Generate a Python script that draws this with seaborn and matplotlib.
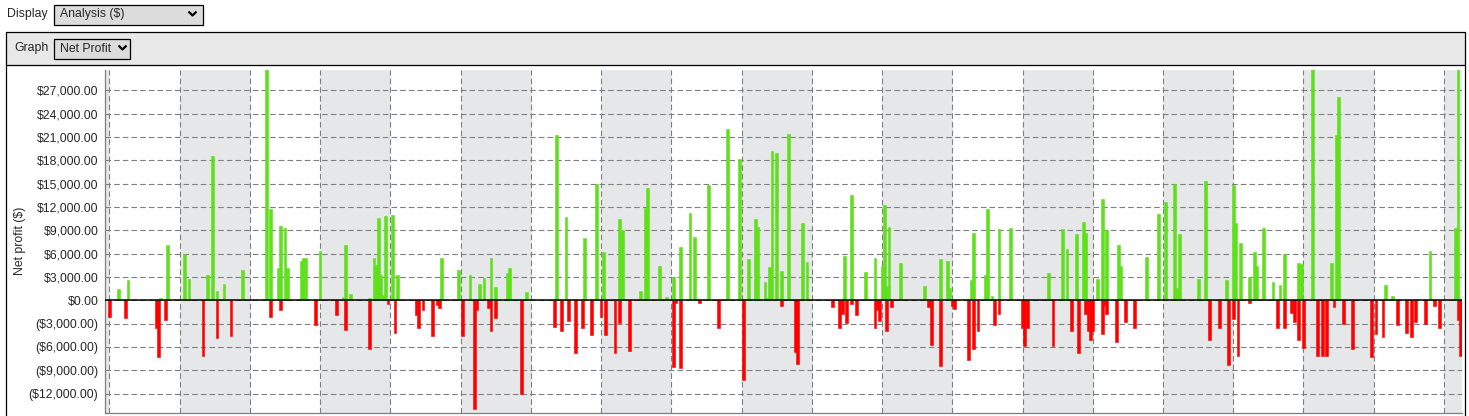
import numpy as np
import pandas as pd
import matplotlib
matplotlib.use("Agg")
import matplotlib.pyplot as plt
import seaborn as sns
from matplotlib.patches import Rectangle

# trade exit day (30-day periods between the dashed lines) and net profit per trade ($)
trade_day = [
    0, 4, 7, 8, 20, 21, 22, 24, 25, 32, 34, 40, 42, 44, 46, 46, 49, 52, 57, 67,
    69, 69, 72, 73, 73, 75, 76, 82, 83, 84, 88, 90, 97, 100, 101, 101, 103, 111, 111, 113,
    114, 115, 116, 117, 118, 119, 121, 122, 123, 131, 132, 134, 138, 140, 141, 142, 149, 151, 154, 156,
    157, 158, 160, 162, 163, 163, 165, 165, 170, 171, 176, 178, 190, 191, 193, 195, 196, 199, 202, 203,
    206, 208, 210, 211, 212, 216, 218, 218, 219, 222, 227, 229, 230, 235, 238, 241, 241, 242, 244, 244,
    248, 250, 252, 256, 260, 264, 269, 271, 273, 276, 277, 280, 281, 282, 283, 285, 287, 287, 290, 293,
    294, 296, 298, 309, 312, 313, 314, 315, 317, 317, 319, 323, 327, 327, 328, 329, 330, 331, 332, 332,
    333, 334, 338, 348, 350, 350, 351, 355, 355, 358, 359, 360, 361, 367, 368, 369, 369, 371, 374, 375,
    377, 378, 380, 380, 385, 390, 391, 392, 401, 403, 407, 409, 411, 413, 414, 416, 417, 417, 418, 419,
    420, 422, 424, 424, 425, 426, 426, 430, 431, 432, 434, 438, 443, 448, 451, 455, 456, 457, 465, 468,
    470, 474, 477, 478, 480, 480, 481, 482, 483, 487, 487, 489, 490, 493, 497, 499, 500, 502, 502, 505,
    506, 508, 508, 509, 510, 514, 516, 518, 520, 522, 523, 524, 525, 527, 531, 539, 541, 544, 545, 548,
    550, 554, 556, 558, 562, 564, 566, 568, 575, 576, 576, 577,
]
net_profit = [
    -2100, 1400, -2300, 2600, -3600, -7300, 340, -2500, 7100, 5900, 2700, -7200, 3300, 18600, 1150, -4800, 2100, -4600, 3900, 31000,
    11800, -2100, 4100, 9600, -1200, 9300, 4100, 5000, 5400, 5400, -3200, 6300, -1900, 430, 7100, -3800, 770, -6300, 260, 5400,
    4600, 10600, 3200, 730, 10800, -430, 11000, -4200, 3300, -1900, -3500, -1300, -4600, -640, -940, 5400, 3900, -4600, 3300, -14000,
    -1200, 2100, 2900, -1000, -3900, 5400, 1700, -2300, 3500, 4100, -12100, 1100, -3400, 21200, -4000, 10700, -2600, -6800, -3600, 8000,
    -4500, 15000, -2100, 6200, -4500, -6800, -2900, 10400, 9100, -6500, 1200, 11900, 14500, 4400, 430, 3000, -8600, -400, -8700, 6800,
    11200, 8100, -400, 14800, -3600, 22000, 18200, -10200, 5300, 10500, 9400, 2400, 300, 4300, 19200, 18900, -700, 3800, 21400, -6600,
    -8200, 10000, 4900, -900, -3500, -1800, 5700, -2900, 13500, -430, -1900, 3600, 5500, -3500, -1300, -2700, 4400, 12200, 1800, -3900,
    9400, -800, 4800, 1800, 100, -800, -5800, 5300, -8400, 5100, 1600, -700, -1100, -7700, 2600, 8600, -6300, -4000, 3300, 11700,
    500, -3200, 9200, -1700, 9300, -3600, -5900, -3600, 3500, -5900, 9200, 6600, -4000, 8500, -6800, 10100, -1700, 8600, -4000, -5100,
    -3900, 2800, 13000, -4300, -600, 9000, -1700, -5400, 7100, 4400, -2800, -3600, 5600, 11100, 12600, 15000, 1600, 8500, 2700, 15300,
    -5100, -3600, 2600, -8300, 14800, -2400, 9900, -7100, 7400, 3000, -400, 6200, 4400, 9300, 2400, -3600, 2000, -3600, 5900, -1600,
    -2800, 4800, -5100, 4700, -6100, 31000, -7200, -7200, -7200, 4800, -900, 21300, 26100, -3000, -6200, -7300, -4300, -4700, 2000, 600,
    -3200, -4200, -4700, -2800, -3000, 6300, -700, -3500, 9300, 31000, -2500, -7200,
]

period_days = 30
n_periods = 19
y_ticks = list(range(-12000, 27001, 3000))

GREEN = "#5ee01a"
RED = "#ff0000"
GRID = "#7f7f7f"
SHADE = "#e6e7e8"

df = pd.DataFrame({"day": trade_day, "profit": net_profit})
df["result"] = np.where(df["profit"] >= 0, "win", "loss")

W, H = 1469, 416
sns.set_style("white")
plt.rcParams["font.family"] = ["Liberation Sans", "DejaVu Sans"]
plt.rcParams["font.size"] = 8.8

fig = plt.figure(figsize=(W / 100, H / 100), dpi=100)

# page / panel chrome drawn in pixel coordinates
bg = fig.add_axes([0, 0, 1, 1])
bg.set_xlim(0, W)
bg.set_ylim(H, 0)
bg.axis("off")

bg.text(7, 14.5, "Display", ha="left", va="center")
bg.add_patch(Rectangle((54.5, 4.5), 149, 20, fc="#dcdcdc", ec="black", lw=0.9))
bg.text(60, 14.5, "Analysis ($)", ha="left", va="center")
bg.plot([188.5, 192.5, 196.5], [11.5, 15.5, 11.5], color="black", lw=1.6, solid_capstyle="butt")

bg.add_patch(Rectangle((6.5, 31.5), 1459, 33, fc="#e8e8e8", ec="none"))
for xs, ys in [([6.5, 1465.5], [31.5, 31.5]), ([6.5, 1465.5], [64.5, 64.5]),
               ([6.5, 6.5], [31.5, H]), ([1465.5, 1465.5], [31.5, H])]:
    bg.plot(xs, ys, color="black", lw=0.9)
bg.text(14, 48.5, "Graph", ha="left", va="center")
bg.add_patch(Rectangle((54.5, 38.5), 76, 20, fc="#dcdcdc", ec="black", lw=0.9))
bg.text(60, 48.5, "Net Profit", ha="left", va="center")
bg.plot([118.5, 122.5, 126.5], [45.5, 49.5, 45.5], color="black", lw=1.6, solid_capstyle="butt")
bg.text(20, 241, "Net profit ($)", rotation=90, ha="center", va="center")

# chart area
left, right, top, bottom = 105, 1462, 70, 413
ax = fig.add_axes([left / W, (H - bottom) / H, (right - left) / W, (bottom - top) / H])
ax.set_facecolor("white")

x_lo, x_hi = -1.85, 577.7
for k in range(-1, n_periods + 1, 2):
    ax.axvspan(max(k * period_days, x_lo - 5), min((k + 1) * period_days, 577.3),
               color=SHADE, lw=0, zorder=0)

sns.barplot(data=df, x="day", y="profit", hue="result",
            palette={"win": GREEN, "loss": RED}, saturation=1, native_scale=True,
            dodge=False, width=1.2, errorbar=None, legend=False, ax=ax, zorder=2)
for p in ax.patches:
    if not isinstance(p, Rectangle):
        continue
    p.set_edgecolor(p.get_facecolor())
    p.set_linewidth(0.4)

ax.set_xlim(x_lo, x_hi)
ax.set_ylim(-14490, 29610)
ax.set_yticks(y_ticks)
ax.set_yticklabels([f"${v:,.2f}" if v >= 0 else f"(${-v:,.2f})" for v in y_ticks])
ax.set_xticks([k * period_days for k in range(n_periods + 1)])
ax.set_xticklabels([])
ax.set_xlabel("")
ax.set_ylabel("")

ax.set_axisbelow(True)
ax.grid(True, axis="both", color=GRID, lw=0.8, linestyle=(0, (5, 2.8)))
ax.axhline(0, color="black", lw=1.1, zorder=3)

for s in ["top", "right"]:
    ax.spines[s].set_visible(False)
for s in ["left", "bottom"]:
    ax.spines[s].set_color(GRID)
    ax.spines[s].set_linewidth(0.9)
ax.tick_params(axis="y", direction="inout", length=5, width=0.8, color=GRID, pad=2.2, labelsize=8.8)
ax.tick_params(axis="x", direction="out", length=3, width=0.8, color=GRID)

fig.savefig("out.png", dpi=100)
